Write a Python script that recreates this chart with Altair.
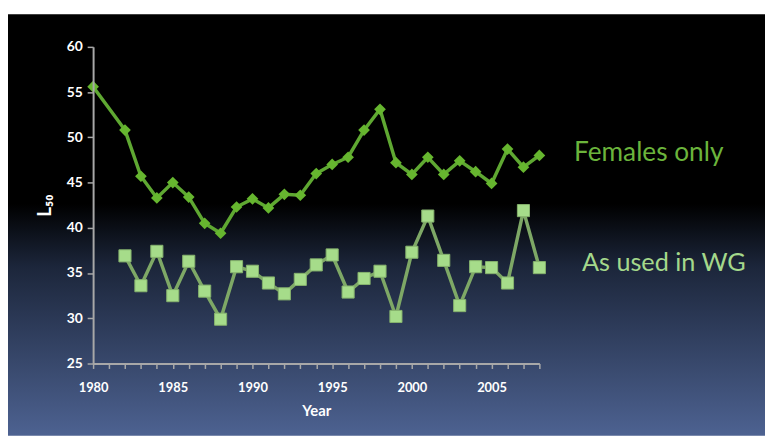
import altair as alt
import pandas as pd

# Data
years_f = [1980] + list(range(1982, 2009))
females = [55.6, 50.8, 45.7, 43.3, 45.0, 43.4, 40.5, 39.4, 42.3, 43.2, 42.2, 43.7,
           43.6, 46.0, 47.0, 47.8, 50.8, 53.1, 47.2, 45.9, 47.8, 45.9, 47.4, 46.2,
           44.9, 48.7, 46.7, 48.0]
years_wg = list(range(1982, 2009))
wg = [36.9, 33.6, 37.4, 32.5, 36.3, 33.0, 29.9, 35.7, 35.2, 33.9, 32.7, 34.3,
      35.9, 37.0, 32.9, 34.4, 35.2, 30.2, 37.3, 41.3, 36.4, 31.4, 35.7, 35.6,
      33.9, 41.9, 35.6]
x_ticks = list(range(1980, 2009))
y_ticks = [25, 30, 35, 40, 45, 50, 55, 60]
label_f = "Females only"
label_wg = "As used in WG"

df_f = pd.DataFrame({"Year": years_f, "L50": females})
df_wg = pd.DataFrame({"Year": years_wg, "L50": wg})
df_lab_f = pd.DataFrame({"Year": [years_f[-1]], "L50": [females[-1]], "t": [label_f]})
df_lab_wg = pd.DataFrame({"Year": [years_wg[-1]], "L50": [wg[-1]], "t": [label_wg]})

W, H = 451, 320
PL, PT, PR, PB = 86, 37, 228, 73

FONT = "Lato"
AXC = "#a8a8a8"

xscale = alt.Scale(domain=[1980, 2008], nice=False, zero=False)
yscale = alt.Scale(domain=[25, 60], nice=False, zero=False)

xaxis = alt.Axis(values=x_ticks, tickCount=len(x_ticks) + 5,
                 labelExpr="datum.value % 5 == 0 ? format(datum.value, 'd') : ''",
                 labelOverlap=False, labelBound=False, labelFlush=False,
                 grid=False, domainColor=AXC, domainWidth=2, tickColor=AXC, tickWidth=1.5,
                 tickSize=5, labelColor="white", labelFont=FONT, labelFontWeight="bold",
                 labelFontSize=13, labelPadding=13, title="Year", titleColor="white",
                 titleFont=FONT, titleFontWeight="bold", titleFontSize=15, titlePadding=10,
                 zindex=1)
yaxis = alt.Axis(values=y_ticks, tickCount=len(y_ticks) + 2, grid=False, domainColor=AXC,
                 domainWidth=2, tickColor=AXC,
                 labelOverlap=False, labelBound=False, labelFlush=False,
                 tickWidth=1.5, tickSize=6, labelColor="white", labelFont=FONT,
                 labelFontWeight="bold", labelFontSize=14, labelPadding=5,
                 title="L₅₀", titleColor="white", titleFont=FONT, titleFontWeight="bold",
                 titleFontSize=19, titlePadding=12, zindex=1)

bg = alt.Chart(pd.DataFrame({"a": [0]})).mark_rect(
    color=alt.LinearGradient(
        gradient="linear",
        stops=[alt.GradientStop(offset=0, color="#000000"),
               alt.GradientStop(offset=0.45, color="#000000"),
               alt.GradientStop(offset=0.6, color="#1c263b"),
               alt.GradientStop(offset=1, color="#4d6291")],
        x1=0, x2=0, y1=0, y2=1)
).encode(x=alt.value(-PL), x2=alt.value(W + PR), y=alt.value(-PT + 4), y2=alt.value(H + PB))

line_f = alt.Chart(df_f).mark_line(color="#5fa832", strokeWidth=3.5).encode(
    x=alt.X("Year:Q", scale=xscale, axis=xaxis),
    y=alt.Y("L50:Q", scale=yscale, axis=yaxis))
pts_f = alt.Chart(df_f).mark_point(shape="diamond", filled=True, size=140, color="#66b62f",
                                   opacity=1).encode(
    x=alt.X("Year:Q", scale=xscale), y=alt.Y("L50:Q", scale=yscale))

line_wg = alt.Chart(df_wg).mark_line(color="#7ea866", strokeWidth=3.5).encode(
    x=alt.X("Year:Q", scale=xscale), y=alt.Y("L50:Q", scale=yscale))
pts_wg = alt.Chart(df_wg).mark_point(shape="square", filled=True, size=150, color="#a6dc8a",
                                     opacity=1, stroke="#86b26d", strokeWidth=1).encode(
    x=alt.X("Year:Q", scale=xscale), y=alt.Y("L50:Q", scale=yscale))

txt_f = alt.Chart(df_lab_f).mark_text(align="left", baseline="middle", dx=35, dy=-2,
                                      font=FONT, fontSize=26.5, color="#6bb43c").encode(
    x=alt.X("Year:Q", scale=xscale), y=alt.Y("L50:Q", scale=yscale), text="t:N")
txt_wg = alt.Chart(df_lab_wg).mark_text(align="left", baseline="middle", dx=43, dy=-5,
                                        font=FONT, fontSize=25.5, color="#a4d88b").encode(
    x=alt.X("Year:Q", scale=xscale), y=alt.Y("L50:Q", scale=yscale), text="t:N")

chart = alt.layer(bg, line_f, line_wg, pts_f, pts_wg, txt_f, txt_wg).properties(
    width=W, height=H,
    autosize=alt.AutoSizeParams(type="none"),
    padding={"left": PL, "top": PT, "right": PR, "bottom": PB},
    background="transparent",
).configure_view(stroke=None)

chart.save("out.html", embed_options={"renderer": "svg", "actions": False})
